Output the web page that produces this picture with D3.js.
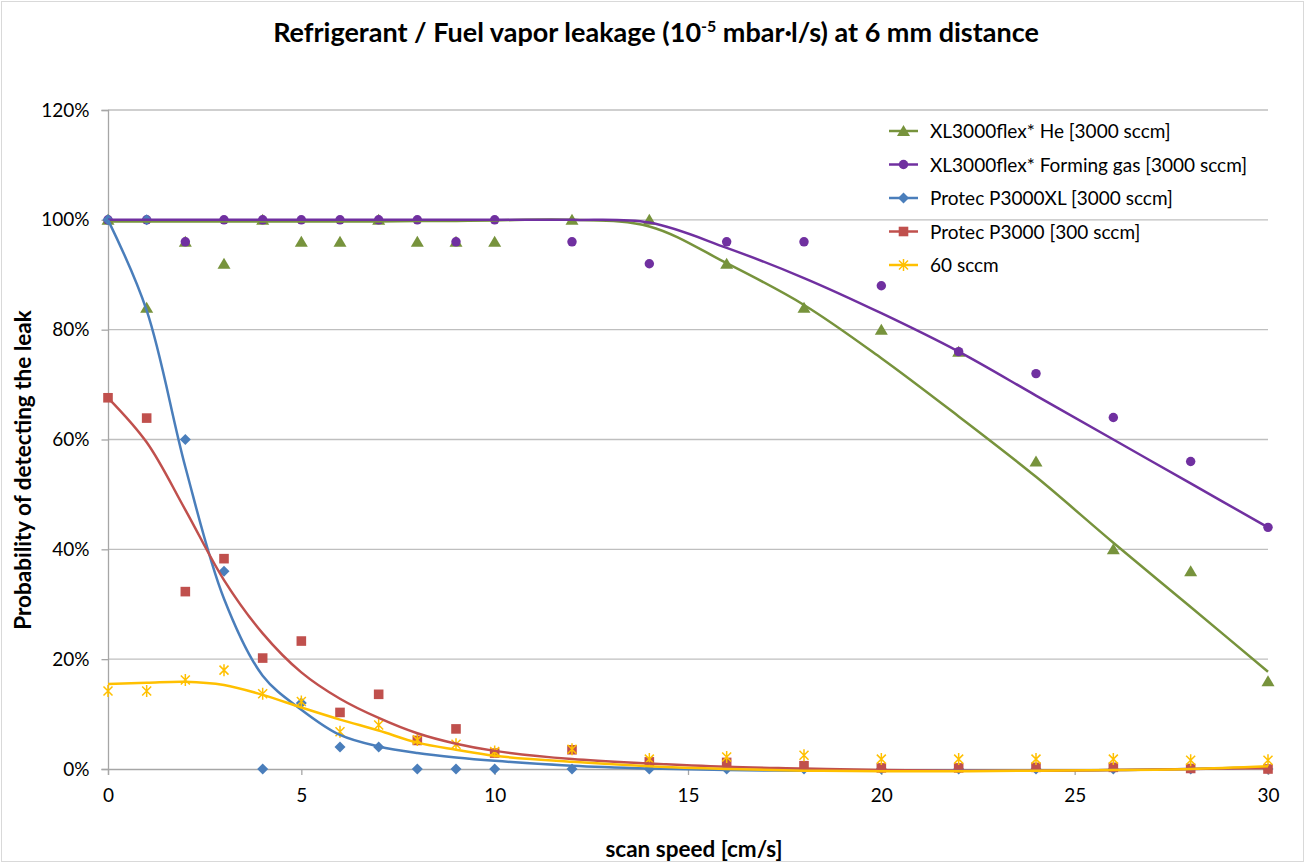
<!DOCTYPE html>
<html>
<head>
    <script type="text/javascript" src="https://d3js.org/d3.v7.min.js"></script>
    <style>
        body { margin: 0; background: #fff; font-family: Lato, "Open Sans", sans-serif; }
    </style>
</head>
<body>
    <div id="svgcontainer"></div>
    <script>
        var width = 1306;
        var height = 865;

        // measured scan speeds (cm/s)
        var speeds = [0, 1, 2, 3, 4, 5, 6, 7, 8, 9, 10, 12, 14, 16, 18, 20, 22, 24, 26, 28, 30];

        // detection probability (%) per series
        var heValues      = [100, 84, 96, 92, 100, 96, 96, 100, 96, 96, 96, 100, 100, 92, 84, 80, 76, 56, 40, 36, 16];
        var formingValues = [100, 100, 96, 100, 100, 100, 100, 100, 100, 96, 100, 96, 92, 96, 96, 88, 76, 72, 64, 56, 44];
        var p3000xlValues = [100, 100, 60, 36, 0, 12, 4, 4, 0, 0, 0, 0, 0, 0, 0, 0, 0, 0, 0, 0, 0];
        var p3000Values   = [67.6, 63.9, 32.3, 38.3, 20.2, 23.3, 10.3, 13.6, 5.2, 7.3, 2.9, 3.5, 1.3, 1.2, 0.6, 0.2, 0.2, 0.3, 0.3, 0.1, 0];
        var sccm60Values  = [14.2, 14.2, 16.2, 18, 13.7, 12.3, 6.8, 8, 5.3, 4.5, 3.2, 3.6, 1.8, 2.2, 2.5, 1.8, 1.8, 1.8, 1.8, 1.6, 1.6];

        // fitted curves
        var fitX       = [0, 1, 2, 3, 4, 5, 6, 7, 8, 9, 10, 12, 14, 16, 18, 20, 22, 24, 26, 28, 30];
        var heFit      = [99.7, 99.7, 99.7, 99.7, 99.7, 99.7, 99.7, 99.7, 99.8, 99.8, 99.9, 100, 98.8, 92.1, 84.5, 74.8, 64.2, 53.2, 41.2, 29.5, 17.7];
        var formingFit = [100, 100, 100, 100, 100, 100, 100, 100, 100, 100, 100, 100, 99.5, 94.9, 89.4, 83, 76, 68, 60, 52, 44];
        var p3000xlFit = [100, 83.5, 55, 31, 17, 10.8, 6.2, 4.1, 2.9, 2.1, 1.5, 0.6, 0.1, -0.2, -0.3, -0.3, -0.3, -0.3, -0.2, 0, 0.3];
        var p3000Fit   = [67.6, 59.5, 47.2, 34.4, 24.7, 17.6, 12.8, 9.3, 6.5, 4.6, 3.3, 1.8, 1.0, 0.4, 0.1, -0.2, -0.3, -0.3, -0.2, 0, 0.2];
        var sccm60Fit  = [15.5, 15.7, 15.9, 15.3, 13.5, 11.2, 9.0, 7.0, 4.8, 3.5, 2.4, 1.3, 0.5, 0, -0.3, -0.4, -0.4, -0.3, -0.2, 0, 0.5];

        var seriesNames = ["XL3000flex* He [3000 sccm]", "XL3000flex* Forming gas [3000 sccm]",
            "Protec P3000XL [3000 sccm]", "Protec P3000 [300 sccm]", "60 sccm"];
        var seriesColors = ["#77933c", "#7030a0", "#4a7ebb", "#c0504d", "#ffc000"];
        var seriesMarkers = ["triangle", "circle", "diamond", "square", "star"];
        var seriesValues = [heValues, formingValues, p3000xlValues, p3000Values, sccm60Values];
        var seriesFits = [heFit, formingFit, p3000xlFit, p3000Fit, sccm60Fit];

        var yTicks = [0, 20, 40, 60, 80, 100, 120];
        var xTicks = [0, 5, 10, 15, 20, 25, 30];

        var svg = d3.select("#svgcontainer")
            .append("svg")
            .attr("width", width)
            .attr("height", height);

        // chart frame
        svg.append("rect").attr("x", 1.5).attr("y", 1.5).attr("width", 1302).attr("height", 860)
            .attr("fill", "#fff").attr("stroke", "#d9d9d9").attr("stroke-width", 1);

        var x = d3.scaleLinear().domain([0, 30]).range([108, 1268]);
        var y = d3.scaleLinear().domain([0, 120]).range([769, 110]);

        // gridlines
        svg.append("g").selectAll("line").data(yTicks.filter(d => d > 0)).enter().append("line")
            .attr("x1", x(0)).attr("x2", x(30))
            .attr("y1", d => y(d)).attr("y2", d => y(d))
            .attr("stroke", "#bfbfbf").attr("stroke-width", 1.3);

        // axes
        var yAxis = d3.axisLeft(y).tickValues(yTicks).tickFormat(d => d + "%").tickSize(6.5).tickPadding(12);
        var gy = svg.append("g").attr("transform", "translate(" + x(0) + ",0)").call(yAxis);
        var xAxis = d3.axisBottom(x).tickValues(xTicks).tickSize(6).tickPadding(14);
        var gx = svg.append("g").attr("transform", "translate(0," + y(0) + ")").call(xAxis);
        [gx, gy].forEach(function (g) {
            g.select(".domain").attr("stroke", "#a6a6a6").attr("stroke-width", 1.3);
            g.selectAll(".tick line").attr("stroke", "#a6a6a6").attr("stroke-width", 1.3);
            g.selectAll(".tick text").attr("fill", "#000").style("font-size", "19px")
                .style("font-family", "Lato, sans-serif");
        });

        // marker shapes, Excel-like
        function markerPath(kind) {
            if (kind === "triangle") return "M0,-6L6.5,5H-6.5Z";
            if (kind === "circle") return d3.symbol().type(d3.symbolCircle).size(70)();
            if (kind === "diamond") return "M0,-5.5L5.5,0L0,5.5L-5.5,0Z";
            if (kind === "square") return "M-4.8,-4.8H4.8V4.8H-4.8Z";
            // star: X plus vertical bar
            return "M-4.5,-4.5L4.5,4.5M-4.5,4.5L4.5,-4.5M0,-6V6";
        }

        function drawMarker(g, kind, color, cx, cy) {
            var p = g.append("path").attr("d", markerPath(kind)).attr("transform", "translate(" + cx + "," + cy + ")");
            if (kind === "star") {
                p.attr("fill", "none").attr("stroke", color).attr("stroke-width", 1.5);
            } else {
                p.attr("fill", color);
            }
            return p;
        }

        var line = d3.line().curve(d3.curveCatmullRom.alpha(0.5))
            .x((d, i) => x(fitX[i])).y(d => y(d));

        // markers first, fitted curves above
        seriesValues.forEach(function (vals, s) {
            var g = svg.append("g");
            vals.forEach(function (v, i) {
                drawMarker(g, seriesMarkers[s], seriesColors[s], x(speeds[i]), y(v));
            });
        });
        seriesFits.forEach(function (fit, s) {
            svg.append("path").datum(fit).attr("d", line)
                .attr("fill", "none").attr("stroke", seriesColors[s]).attr("stroke-width", 2.5);
        });

        // legend
        var legend = svg.append("g");
        seriesNames.forEach(function (name, s) {
            var ly = 131 + s * 33.5;
            legend.append("line").attr("x1", 889).attr("x2", 918).attr("y1", ly).attr("y2", ly)
                .attr("stroke", seriesColors[s]).attr("stroke-width", 2.5);
            drawMarker(legend, seriesMarkers[s], seriesColors[s], 903.5, ly);
            legend.append("text").attr("x", 930).attr("y", ly + 7).text(name)
                .style("font-size", "19px").attr("fill", "#000");
        });

        // title
        var title = svg.append("text").attr("x", 656).attr("y", 42).attr("text-anchor", "middle")
            .style("font-size", "27px").style("font-weight", "bold");
        title.append("tspan").text("Refrigerant / Fuel vapor leakage (10");
        title.append("tspan").attr("dy", -10).style("font-size", "16px").text("-5");
        title.append("tspan").attr("dy", 10).text(" mbar\u00b7l/s) at 6 mm distance");

        // axis titles
        svg.append("text").attr("x", 694).attr("y", 857).attr("text-anchor", "middle")
            .style("font-size", "22.5px").style("font-weight", "bold").text("scan speed [cm/s]");
        svg.append("text").attr("transform", "translate(31,470) rotate(-90)").attr("text-anchor", "middle")
            .style("font-size", "22.5px").style("font-weight", "bold").text("Probability of detecting the leak");
    </script>
</body>
</html>
